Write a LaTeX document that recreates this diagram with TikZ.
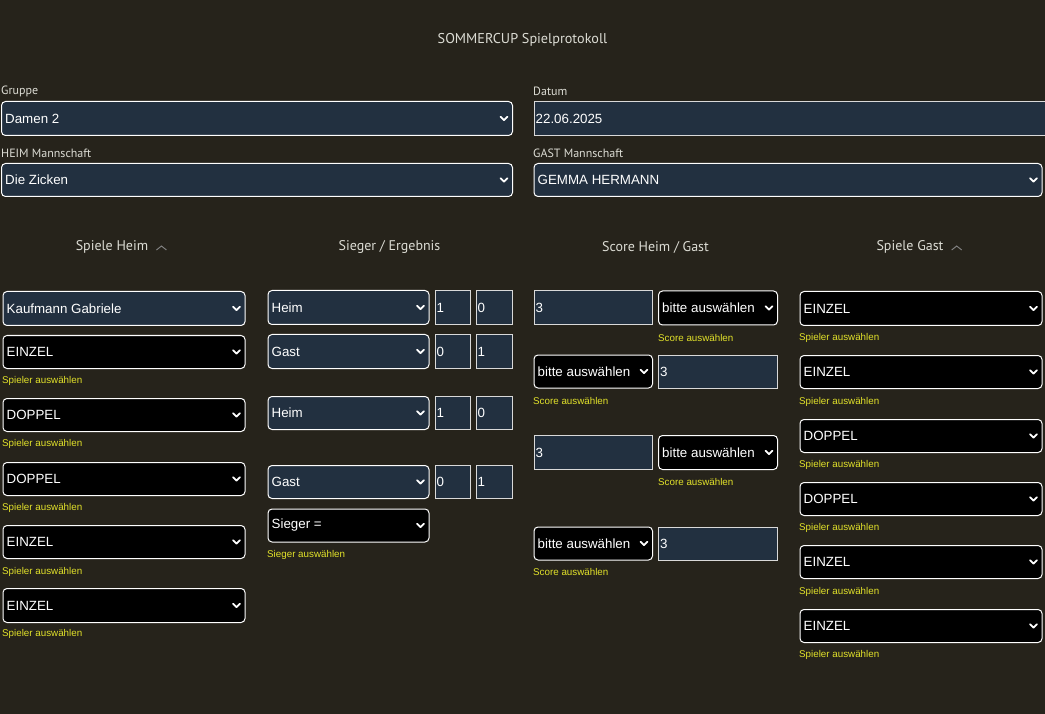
\documentclass[tikz,border=0pt]{standalone}
\usepackage{fontspec}
\setmainfont{Liberation Sans}
\newfontfamily\hdrfont{PT Sans}
\definecolor{bg}{HTML}{26231B}
\definecolor{navy}{HTML}{223040}
\definecolor{ylw}{HTML}{E2E22A}
\definecolor{lbl}{HTML}{DCDCD4}
\tikzset{
 selnavy/.style={draw=white, line width=1pt, rounded corners=4pt, fill=navy, inner sep=0pt},
 selblack/.style={draw=white, line width=1pt, rounded corners=4pt, fill=black, inner sep=0pt},
 inbox/.style={draw=white!85!black, line width=1pt, fill=navy, inner sep=0pt},
 btxt/.style={text=white, font=\fontsize{13.33}{16}\selectfont, inner sep=0pt, anchor=west},
 hint/.style={text=ylw, font=\fontsize{9.8}{12}\selectfont, inner sep=0pt, anchor=west},
 flabel/.style={text=lbl, font=\hdrfont\fontsize{12}{14}\selectfont, inner sep=0pt, anchor=west},
 colhead/.style={text=lbl, font=\hdrfont\fontsize{14}{17}\selectfont, inner sep=0pt},
 chev/.style={draw=white, line width=1.8pt, line cap=round, line join=round},
 caretline/.style={draw=gray, line width=1pt},
}
\newcommand\UiBox[8]{% name, style, x, y, w, h, text, pad
 \node[#2, minimum width=#5pt, minimum height=#6pt, anchor=north west] (#1) at (#3,#4) {};
 \node[btxt] (#1t) at ([xshift=#8pt]#1.west) {#7};}
\newcommand\UiSel[7]{\UiBox{#1}{#2}{#3}{#4}{#5}{#6}{#7}{4}
 \draw[chev] ([xshift=-12.5pt,yshift=1.8pt]#1.east) -- ++(3.5pt,-3.5pt) -- ++(3.5pt,3.5pt);}
\newcommand\UiIn[6]{\UiBox{#1}{inbox}{#2}{#3}{#4}{#5}{#6}{2}}
\begin{document}
\begin{tikzpicture}[x=1pt,y=-1pt]
\useasboundingbox (0,0) rectangle (1045,714);
\path[fill=bg] (0,0) rectangle (1045,714);
% title
\node[text=lbl, font=\hdrfont\fontsize{14.2}{17}\selectfont, inner sep=0pt] (title) at (522.5,40) {SOMMERCUP Spielprotokoll};
% top form
\node[flabel] (lgruppe) at (1,91) {Gruppe};
\UiSel{grp}{selnavy}{1}{101}{511}{34}{Damen 2}
\node[flabel] (lheim) at (1,153) {HEIM Mannschaft};
\UiSel{heim}{selnavy}{1}{163}{511}{33}{Die Zicken}
\node[flabel] (ldatum) at (533,91) {Datum};
\UiIn{datum}{533.5}{101}{514}{34}{22.06.2025}
\node[flabel] (lgast) at (533,153) {GAST Mannschaft};
\UiSel{gast}{selnavy}{533.5}{163}{508}{33}{GEMMA HERMANN}
% column headers
\node[colhead] (hd1) at (112,247) {Spiele Heim};
\draw[caretline] ([xshift=8pt,yshift=-3pt]hd1.east) -- ++(5pt,4pt) -- ++(5pt,-4pt);
\node[colhead] (hd2) at (389.5,247) {Sieger / Ergebnis};
\node[colhead] (hd3) at (655.5,247) {Score Heim / Gast};
\node[colhead] (hd4) at (910,247) {Spiele Gast};
\draw[caretline] ([xshift=8pt,yshift=-3pt]hd4.east) -- ++(5pt,4pt) -- ++(5pt,-4pt);
% Spiele Heim column
\UiSel{k1}{selnavy}{2.5}{291}{242}{34}{Kaufmann Gabriele}
\UiSel{h1}{selblack}{2.5}{335}{242}{33}{EINZEL}
\node[hint] (hh1) at (2,381) {Spieler auswählen};
\UiSel{h2}{selblack}{2.5}{398}{242}{33}{DOPPEL}
\node[hint] (hh2) at (2,444) {Spieler auswählen};
\UiSel{h3}{selblack}{2.5}{462}{242}{33}{DOPPEL}
\node[hint] (hh3) at (2,507.5) {Spieler auswählen};
\UiSel{h4}{selblack}{2.5}{525}{242}{33}{EINZEL}
\node[hint] (hh4) at (2,571.5) {Spieler auswählen};
\UiSel{h5}{selblack}{2.5}{588}{242}{34}{EINZEL}
\node[hint] (hh5) at (2,634) {Spieler auswählen};
% Sieger / Ergebnis column
\UiSel{r1}{selnavy}{267.5}{290}{161}{34}{Heim}
\UiIn{r1a}{434.5}{290}{35}{34}{1}
\UiIn{r1b}{475.5}{290}{36}{34}{0}
\UiSel{r2}{selnavy}{267.5}{334}{161}{34}{Gast}
\UiIn{r2a}{434.5}{334}{35}{34}{0}
\UiIn{r2b}{475.5}{334}{36}{34}{1}
\UiSel{r3}{selnavy}{267.5}{396}{161}{33}{Heim}
\UiIn{r3a}{434.5}{396}{35}{33}{1}
\UiIn{r3b}{475.5}{396}{36}{33}{0}
\UiSel{r4}{selnavy}{267.5}{465}{161}{33}{Gast}
\UiIn{r4a}{434.5}{465}{35}{33}{0}
\UiIn{r4b}{475.5}{465}{36}{33}{1}
\UiSel{sg}{selblack}{267.5}{508.5}{161}{33}{Sieger =}
\node[hint] (hsg) at (267,555) {Sieger auswählen};
% Score column
\UiIn{s1a}{533.5}{290.5}{118.5}{34}{3}
\UiSel{s1b}{selblack}{658}{290.5}{119}{34}{bitte auswählen}
\node[hint] (hs1) at (658,337.5) {Score auswählen};
\UiSel{s2a}{selblack}{533.5}{354.5}{118.5}{33}{bitte auswählen}
\UiIn{s2b}{658}{354.5}{119}{33}{3}
\node[hint] (hs2) at (533,401) {Score auswählen};
\UiIn{s3a}{533.5}{435}{118.5}{34}{3}
\UiSel{s3b}{selblack}{658}{435}{119}{34}{bitte auswählen}
\node[hint] (hs3) at (658,482) {Score auswählen};
\UiSel{s4a}{selblack}{533.5}{526.5}{118.5}{33}{bitte auswählen}
\UiIn{s4b}{658}{526.5}{119}{33}{3}
\node[hint] (hs4) at (533,572) {Score auswählen};
% Spiele Gast column
\UiSel{g1}{selblack}{799.5}{291}{242}{34}{EINZEL}
\node[hint] (hg1) at (799,338) {Spieler auswählen};
\UiSel{g2}{selblack}{799.5}{355}{242}{33}{EINZEL}
\node[hint] (hg2) at (799,402) {Spieler auswählen};
\UiSel{g3}{selblack}{799.5}{419}{242}{33}{DOPPEL}
\node[hint] (hg3) at (799,464.5) {Spieler auswählen};
\UiSel{g4}{selblack}{799.5}{482}{242}{33}{DOPPEL}
\node[hint] (hg4) at (799,528) {Spieler auswählen};
\UiSel{g5}{selblack}{799.5}{545}{242}{33}{EINZEL}
\node[hint] (hg5) at (799,592) {Spieler auswählen};
\UiSel{g6}{selblack}{799.5}{609}{242}{33}{EINZEL}
\node[hint] (hg6) at (799,654.5) {Spieler auswählen};
\end{tikzpicture}
\end{document}
